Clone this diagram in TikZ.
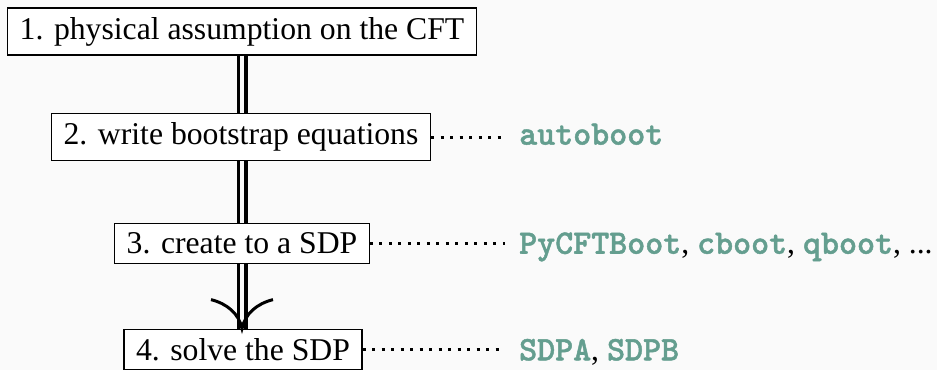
\documentclass[tikz,border=0pt]{standalone}
\usepackage{fontspec}
\setmainfont{Liberation Serif}
\newfontfamily\codefont{lmmonolt10-bold}[Extension=.otf, FakeBold=1.3]
\usetikzlibrary{calc}
\definecolor{tealcode}{RGB}{100,158,143}
\definecolor{bgcol}{RGB}{250,250,250}
\newcommand\mycode[1]{{\fontsize{34.3}{38}\codefont\color{tealcode}#1}}
\begin{document}
\begin{tikzpicture}[x=1pt,y=1pt,
  box/.style={draw, line width=1.3pt, fill=white, font=\fontsize{31.7}{38}\selectfont, inner xsep=12pt, inner ysep=9pt},
  lab/.style={font=\fontsize{31.7}{38}\selectfont, inner xsep=14pt, inner ysep=0pt, anchor=base west},
  dbl/.style={double=bgcol, line width=3.5pt, double distance=4pt},
  dotline/.style={line width=3pt, dash pattern=on 3pt off 6.5pt},
  hook/.style={line width=3pt}]
\fill[bgcol] (0,0) rectangle (937,-370);
\useasboundingbox (0,0) rectangle (937,-370);
\coordinate (lx) at (505,0);
\node[box] (b1) at (242,-31.5) {1. physical assumption on the CFT};
\node[box] (b2) at (241,-137) {2. write bootstrap equations};
\node[box] (b3) at (242,-243.5) {3. create to a SDP};
\node[box] (b4) at (243,-349.5) {4. solve the SDP};
\draw[dbl] (b1.south) -- (b1.south |- b2.north);
\draw[dbl] (b1.south |- b2.south) -- (b1.south |- b3.north);
\draw[dbl] (b1.south |- b3.south) -- (b1.south |- b4.north);
\coordinate (tip) at (b1.south |- b4.north);
\draw[hook] ($(tip)+(-31,29)$) .. controls ($(tip)+(-15,25)$) and ($(tip)+(-3,15)$) .. (tip)
  .. controls ($(tip)+(3,15)$) and ($(tip)+(15,25)$) .. ($(tip)+(31,29)$);
\node[lab] (l2) at (lx |- b2.base) {\mycode{autoboot}};
\node[lab] (l3) at (lx |- b3.base) {\mycode{PyCFTBoot}, \mycode{cboot}, \mycode{qboot}, ...};
\node[lab] (l4) at (lx |- b4.base) {\mycode{SDPA}, \mycode{SDPB}};
\draw[dotline] (b2.east) -- (b2.east -| l2.west);
\draw[dotline] (b3.east) -- (b3.east -| l3.west);
\draw[dotline] (b4.east) -- (b4.east -| l4.west);
\end{tikzpicture}
\end{document}
